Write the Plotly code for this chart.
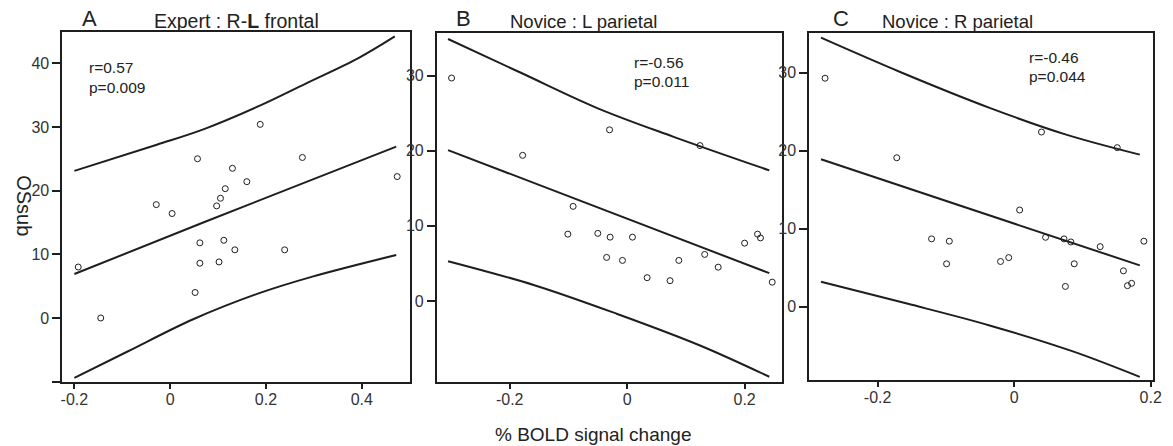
import plotly.graph_objects as go
from plotly.subplots import make_subplots

W, H = 1173, 446
FONT = "Liberation Sans, Arial, sans-serif"
INK = "#1e1e1e"

# Panel A - Expert : R-L frontal
a_x = [0.188, 0.057, 0.276, 0.130, 0.160, 0.115, 0.105, 0.474, -0.029, 0.004,
       0.097, -0.192, 0.062, 0.112, 0.135, 0.239, 0.062, 0.102, 0.052, -0.145]
a_y = [30.4, 25.0, 25.2, 23.5, 21.4, 20.3, 18.8, 22.2, 17.8, 16.4,
       17.6, 8.0, 11.8, 12.2, 10.7, 10.7, 8.6, 8.8, 4.0, 0.0]
a_fit_x = [-0.200, 0.069, 0.472]
a_fit_y = [6.9, 15.0, 26.9]
a_up_x = [-0.200, -0.028, 0.072, 0.186, 0.283, 0.393, 0.469]
a_up_y = [23.1, 27.2, 29.7, 33.3, 36.8, 40.8, 44.2]
a_lo_x = [-0.200, -0.090, 0.048, 0.186, 0.297, 0.472]
a_lo_y = [-9.4, -5.3, -0.2, 3.9, 6.5, 9.9]

# Panel B - Novice : L parietal
b_x = [-0.299, -0.178, -0.030, 0.124, -0.092, -0.101, -0.050, -0.029, 0.009, -0.035,
       -0.008, 0.034, 0.073, 0.088, 0.132, 0.155, 0.200, 0.222, 0.227, 0.247]
b_y = [29.7, 19.4, 22.8, 20.7, 12.6, 8.9, 9.0, 8.5, 8.5, 5.8,
       5.4, 3.1, 2.7, 5.4, 6.2, 4.5, 7.7, 8.9, 8.4, 2.5]
b_fit_x = [-0.305, 0.242]
b_fit_y = [20.1, 3.7]
b_up_x = [-0.305, -0.181, -0.051, 0.078, 0.242]
b_up_y = [34.9, 30.4, 25.7, 21.9, 17.4]
b_lo_x = [-0.305, -0.158, -0.018, 0.123, 0.242]
b_lo_y = [5.3, 2.1, -1.7, -5.9, -10.1]

# Panel C - Novice : R parietal
c_x = [-0.277, -0.172, 0.040, 0.151, 0.008, -0.121, -0.095, -0.099, -0.020, -0.008,
       0.046, 0.073, 0.083, 0.088, 0.075, 0.126, 0.160, 0.166, 0.172, 0.190]
c_y = [29.3, 19.1, 22.4, 20.4, 12.4, 8.7, 8.4, 5.5, 5.8, 6.3,
       8.9, 8.7, 8.3, 5.5, 2.6, 7.7, 4.6, 2.7, 3.0, 8.4]
c_fit_x = [-0.283, 0.184]
c_fit_y = [18.9, 5.3]
c_up_x = [-0.283, -0.167, -0.036, 0.075, 0.184]
c_up_y = [34.5, 30.1, 25.5, 22.1, 19.5]
c_lo_x = [-0.283, -0.157, -0.036, 0.085, 0.184]
c_lo_y = [3.2, 0.4, -2.4, -5.7, -9.0]

panels = [
    dict(x=a_x, y=a_y, fit=(a_fit_x, a_fit_y), up=(a_up_x, a_up_y), lo=(a_lo_x, a_lo_y),
         xr=[-0.225, 0.501], yr=[-10.05, 44.9],
         xt=[-0.2, 0, 0.2, 0.4], xl=["-0.2", "0", "0.2", "0.4"],
         yt=[-10, 0, 10, 20, 30, 40], yl=["", "0", "10", "20", "30", "40"],
         box=(61, 412, 32, 382)),
    dict(x=b_x, y=b_y, fit=(b_fit_x, b_fit_y), up=(b_up_x, b_up_y), lo=(b_lo_x, b_lo_y),
         xr=[-0.324, 0.263], yr=[-10.8, 35.7],
         xt=[-0.2, 0, 0.2], xl=["-0.2", "0", "0.2"],
         yt=[0, 10, 20, 30], yl=["0", "10", "20", "30"],
         box=(439, 787, 33, 382)),
    dict(x=c_x, y=c_y, fit=(c_fit_x, c_fit_y), up=(c_up_x, c_up_y), lo=(c_lo_x, c_lo_y),
         xr=[-0.300, 0.2035], yr=[-9.4, 35.1],
         xt=[-0.2, 0, 0.2], xl=["-0.2", "0", "0.2"],
         yt=[0, 10, 20, 30], yl=["0", "10", "20", "30"],
         box=(815, 1162, 33, 380)),
]

fig = make_subplots(rows=1, cols=3)

for i, p in enumerate(panels, start=1):
    for lx, ly in (p["up"], p["fit"], p["lo"]):
        fig.add_trace(go.Scatter(x=lx, y=ly, mode="lines", line=dict(color=INK, width=2),
                                 line_shape="spline", showlegend=False, hoverinfo="skip"),
                      row=1, col=i)
    fig.add_trace(go.Scatter(x=p["x"], y=p["y"], mode="markers", showlegend=False,
                             marker=dict(symbol="circle-open", size=6, color=INK,
                                         line=dict(width=1))),
                  row=1, col=i)
    x0, x1, y0, y1 = p["box"]
    fig.update_xaxes(domain=[x0 / W, x1 / W], range=p["xr"], tickvals=p["xt"], ticktext=p["xl"],
                     row=1, col=i)
    fig.update_yaxes(domain=[1 - y1 / H, 1 - y0 / H], range=p["yr"], tickvals=p["yt"], ticktext=p["yl"],
                     row=1, col=i)

axis_style = dict(showline=True, mirror=True, linewidth=2, linecolor=INK, showgrid=False,
                  zeroline=False, ticks="outside", tickwidth=2, tickcolor=INK,
                  tickfont=dict(size=16, color="#333"))
fig.update_xaxes(**axis_style, ticklen=5, ticklabelstandoff=-3)
fig.update_yaxes(**axis_style, ticklen=8, ticklabelstandoff=0)


def note(text, px, py, size, xanchor="center", angle=0):
    fig.add_annotation(text=text, x=px / W, y=1 - py / H, xref="paper", yref="paper",
                       xanchor=xanchor, yanchor="middle", showarrow=False, textangle=angle,
                       font=dict(size=size, color="#222", family=FONT))


# panel letters and titles
note("A", 88, 18, 22)
note("Expert : R-<b>L</b> frontal", 237, 21, 19.5)
note("B", 466, 18, 22)
note("Novice : L parietal", 587, 21, 18.5)
note("C", 847, 18, 22)
note("Novice : R parietal", 965, 21, 18.5)

# correlation stats
note("r=0.57", 86, 67, 15.5, "left")
note("p=0.009", 86, 87, 15.5, "left")
note("r=-0.56", 636, 63, 15.5, "left")
note("p=0.011", 636, 82, 15.5, "left")
note("r=-0.46", 1035, 57, 15.5, "left")
note("p=0.044", 1035, 76, 15.5, "left")

# axis titles
note("OSsub", 22, 206, 20, angle=90)
note("% BOLD signal change", 597, 434, 19)

fig.update_layout(width=W, height=H, margin=dict(l=0, r=0, t=0, b=0),
                  paper_bgcolor="white", plot_bgcolor="white",
                  font=dict(family=FONT, color="#222"))

fig.write_html("out.html", config={"displayModeBar": False},
               post_script="document.body.style.margin='0';")
